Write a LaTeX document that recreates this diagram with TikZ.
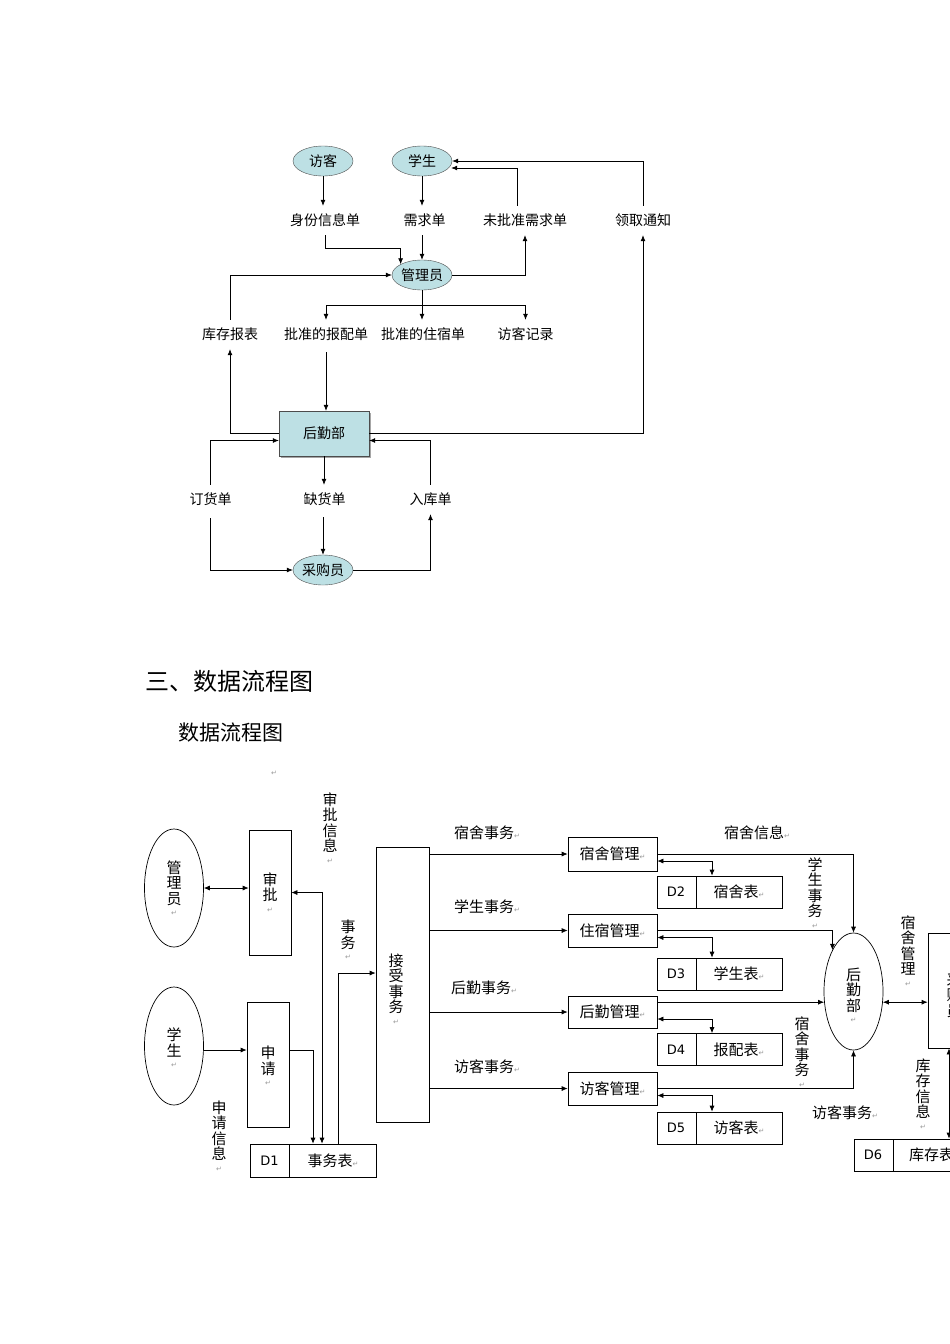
\documentclass[tikz,border=0pt]{standalone}
\usepackage{fontspec}
\setmainfont{Noto Sans CJK SC}
\newfontfamily\djv{DejaVu Sans}
\usetikzlibrary{shapes.geometric,arrows.meta,backgrounds,shadows,calc}
\definecolor{tealc}{RGB}{189,224,228}
\newcommand\rt{{\djv\fontsize{7}{7}\selectfont\color{gray!80}↵}}
\begin{document}
\begin{tikzpicture}[x=1pt,y=-1pt,
  arr/.style={-{Latex[length=6pt,width=5pt]},line width=0.7pt},
  barr/.style={{Latex[length=6pt,width=5pt]}-{Latex[length=6pt,width=5pt]},line width=0.7pt},
  ln/.style={line width=0.7pt},
  ell/.style={ellipse,draw=black!70,fill=tealc,minimum width=60pt,minimum height=30pt,inner sep=0pt,font=\fontsize{14}{14}\selectfont},
  doc/.style={draw=none,minimum height=29pt,inner sep=0pt,font=\fontsize{14}{14}\selectfont},
  docpath/.style={draw=black!70,fill=tealc,drop shadow={shadow xshift=1.5pt,shadow yshift=-1.5pt,fill=gray!70,opacity=1}},
  box/.style={draw,line width=0.7pt,inner sep=0pt,font=\fontsize{15}{15}\selectfont},
  vl/.style={align=center,font=\fontsize{15}{15.5}\selectfont,inner sep=0pt},
  hl/.style={font=\fontsize{15}{15}\selectfont,inner sep=0pt},
  store/.style={draw,line width=0.7pt,minimum height=33pt,inner sep=0pt}]
\clip (0,0) rectangle (950,1344);
\useasboundingbox (0,0) rectangle (950,1344);
\fill[white] (0,0) rectangle (950,1344);

% ===== top diagram =====
\node[ell] (fk) at (323,161) {访客};
\node[ell] (xs) at (422,161) {学生};
\node[doc,minimum width=76pt] (sfx) at (325,220.5) {身份信息单};
\node[doc,minimum width=75pt] (xq) at (424.5,220.5) {需求单};
\node[doc,minimum width=94pt] (wpz) at (525,220.5) {未批准需求单};
\node[doc,minimum width=90pt] (lq) at (643,220.5) {领取通知};
\node[ell] (gly) at (422,275) {管理员};
\node[doc,minimum width=84pt] (kc) at (230,334.5) {库存报表};
\node[doc,minimum width=92pt] (pz) at (326,334.5) {批准的报配单};
\node[doc,minimum width=90pt] (zs) at (423,334.5) {批准的住宿单};
\node[doc,minimum width=81pt] (jl) at (525.5,334.5) {访客记录};
\node[draw=black!70,fill=tealc,minimum width=90pt,minimum height=45pt,inner sep=0pt,font=\fontsize{14}{14}\selectfont,drop shadow={shadow xshift=1.5pt,shadow yshift=-1.5pt,fill=gray!70,opacity=1}] (hq) at (324,433.5) {后勤部};
\node[doc,minimum width=75pt] (dh) at (210.5,499.5) {订货单};
\node[doc,minimum width=75pt] (qh) at (324.5,499.5) {缺货单};
\node[doc,minimum width=75pt] (rk) at (430.5,499.5) {入库单};
\node[ell] (cg) at (323,570) {采购员};

\begin{scope}[on background layer]
\foreach \m in {sfx,xq,wpz,lq,kc,pz,zs,jl,dh,qh,rk}{
  \path[docpath] let \p1=(\m.north west), \p2=(\m.south east), \n1={\x2-\x1} in
    (\p1) -- (\x2,\y1) -- (\x2,\y2+2pt)
   .. controls (\x2-0.3*\n1,\y2-4pt) and (\x1+0.3*\n1,\y2-10pt) .. (\x1,\y2-5pt) -- cycle;
}
\end{scope}

\draw[arr] (fk.south) -- (fk.south |- sfx.north);
\draw[arr] (xs.south) -- (xs.south |- xq.north);
\draw[arr] (sfx.south) -- ++(0,13) -| (gly.north west);
\draw[arr] (gly.north |- xq.south) -- (gly.north);
\draw[arr] (gly.east) -| (wpz.south);
\draw[arr] ([xshift=-8pt]wpz.north) |- ($(xs.east)+(-1,7)$);
\draw[arr] (lq.north) |- (xs.east);
\draw[arr] (kc.north) |- (gly.west);
\draw[ln] (gly.south) -- ++(0,15) coordinate (br);
\draw[ln] (br -| pz) -- (br -| jl);
\draw[arr] (br -| pz) -- (pz.north);
\draw[arr] (br) -- (zs.north -| br);
\draw[arr] (br -| jl) -- (jl.north);
\draw[arr] (pz.south |- 0,352) -- (pz.south |- hq.north);
\draw[arr] (hq.west) -| (kc.south);
\draw[arr] (hq.east) -| (lq.south);
\draw[arr] (dh.north) |- ([yshift=-7pt]hq.west);
\draw[arr] (rk.north) |- ([yshift=-7pt]hq.east);
\draw[arr] (hq.south) -- (hq.south |- qh.north);
\draw[arr] (cg.north |- 0,517) -- (cg.north);
\draw[arr] (dh.south |- 0,518) |- (cg.west);
\draw[arr] (cg.east) -| (rk.south);

% ===== headings =====
\node[anchor=west,inner sep=0pt,font=\fontsize{24}{24}\selectfont] at (145,681) {三、数据流程图};
\node[anchor=west,inner sep=0pt,font=\fontsize{21}{21}\selectfont] at (178,733) {数据流程图};
\node[inner sep=0pt] at (274,773) {\rt};

% ===== bottom DFD =====
\node[ellipse,draw,line width=0.7pt,minimum width=59pt,minimum height=118pt,inner sep=0pt] (gly2) at (174,888) {};
\node[vl] at (174,888) {管\\理\\员\\[-4pt]\rt};
\node[box,minimum width=42pt,minimum height=125pt] (sp) at (270,892.5) {};
\node[vl] at (270,892.5) {审\\批\\[-4pt]\rt};
\node[ellipse,draw,line width=0.7pt,minimum width=59pt,minimum height=118pt,inner sep=0pt] (xs2) at (174,1046) {};
\node[vl] at (174,1048) {学\\生\\[-4pt]\rt};
\node[box,minimum width=42pt,minimum height=125pt] (sq) at (268,1064.5) {};
\node[vl] at (268,1066) {申\\请\\[-4pt]\rt};
\node[store,minimum width=126pt] (d1) at (313,1160.5) {};
\draw[line width=0.7pt] (289,1144) -- (289,1177);
\node[font=\fontsize{13}{13}\selectfont\djv] at (269.5,1160.5) {D1};
\node[hl] at (333,1160.5) {事务表\rt};
\node[box,minimum width=53pt,minimum height=275pt] (js) at (402.5,984.5) {};
\node[vl] at (396,989) {接\\受\\事\\务\\[-4pt]\rt};

\node[vl] at (330,828) {审\\批\\信\\息\\[-4pt]\rt};
\node[vl] at (348,940) {事\\务\\[-4pt]\rt};
\node[vl] at (219,1136) {申\\请\\信\\息\\[-4pt]\rt};

\draw[barr] (gly2.east) -- (gly2.east -| sp.west);
\draw[arr] (xs2.east |- 0,1050) -- (sq.west |- 0,1050);
\draw[arr] (sq.east |- 0,1050) -| ([xshift=0pt]d1.north);
\draw[barr] ([xshift=9pt]d1.north) |- (sp.east);
\draw[arr] ([xshift=25pt]d1.north) |- ([yshift=11.5pt]js.west);

\node[box,minimum width=89pt,minimum height=34pt] (ssgl) at (612.5,854) {};
\node[hl] at (612.5,854) {宿舍管理\rt};
\node[box,minimum width=89pt,minimum height=33pt] (zsgl) at (612.5,930.5) {};
\node[hl] at (612.5,930.5) {住宿管理\rt};
\node[box,minimum width=89pt,minimum height=32pt] (hqgl) at (612.5,1012) {};
\node[hl] at (612.5,1012) {后勤管理\rt};
\node[box,minimum width=89pt,minimum height=33pt] (fkgl) at (612.5,1088.5) {};
\node[hl] at (612.5,1088.5) {访客管理\rt};

\foreach \n/\y/\d/\t in {d2/892/D2/宿舍表, d3/974/D3/学生表, d4/1049.5/D4/报配表, d5/1128/D5/访客表}{
  \node[store,minimum width=125pt,minimum height=32pt] (\n) at (719.5,\y) {};
  \draw[line width=0.7pt] (696,\y-16) -- (696,\y+16);
  \node[font=\fontsize{13}{13}\selectfont\djv] at (676,\y) {\d};
  \node[hl] at (739,\y) {\t\rt};
}
\draw[barr] ([xshift=-7.5pt]d2.north) |- ([yshift=-7pt]ssgl.east);
\draw[barr] ([xshift=-7.5pt]d3.north) |- ([yshift=-7pt]zsgl.east);
\draw[barr] ([xshift=-7.5pt]d4.north) |- ([yshift=-7pt]hqgl.east);
\draw[barr] ([xshift=-7.5pt]d5.north) |- ([yshift=-7pt]fkgl.east);

\foreach \n in {ssgl, zsgl, hqgl, fkgl}{
  \draw[arr] (js.east |- \n.west) -- (\n.west);
}
\node[hl] at (487,833) {宿舍事务\rt};
\node[hl] at (487,907) {学生事务\rt};
\node[hl] at (484,988) {后勤事务\rt};
\node[hl] at (487,1067) {访客事务\rt};

\node[ellipse,draw,line width=0.7pt,minimum width=59pt,minimum height=117pt,inner sep=0pt] (hqb) at (853.5,991.5) {};
\node[vl] at (853.5,995) {后\\勤\\部\\[-4pt]\rt};
\node[box,minimum width=60pt,minimum height=115pt] (cg2) at (958,990.5) {};
\node[vl] at (954,995) {采\\购\\员};
\node[store,minimum width=140pt,minimum height=32pt] (d6) at (924,1155) {};
\draw[line width=0.7pt] (893,1139) -- (893,1171);
\node[font=\fontsize{13}{13}\selectfont\djv] at (873,1155) {D6};
\node[hl,anchor=west] at (909,1155) {库存表};

\draw[arr] (ssgl.east) -| (hqb.north);
\draw[arr] (zsgl.east) -| (hqb.north west);
\draw[arr] (hqb.200 -| hqgl.east) -- (hqb.200);
\draw[arr] (fkgl.east) -| (hqb.south);
\draw[barr] (hqb.340) -- (hqb.340 -| cg2.west);
\draw[barr] ([xshift=-9pt]cg2.south) -- ([xshift=-9pt]cg2.south |- d6.north);

\node[hl] at (757,833) {宿舍信息\rt};
\node[vl] at (815,893) {学\\生\\事\\务\\[-4pt]\rt};
\node[vl] at (802,1052) {宿\\舍\\事\\务\\[-4pt]\rt};
\node[hl] at (845,1113) {访客事务\rt};
\node[vl] at (908,951) {宿\\舍\\管\\理\\[-4pt]\rt};
\node[vl] at (923,1094) {库\\存\\信\\息\\[-4pt]\rt};
\end{tikzpicture}
\end{document}
